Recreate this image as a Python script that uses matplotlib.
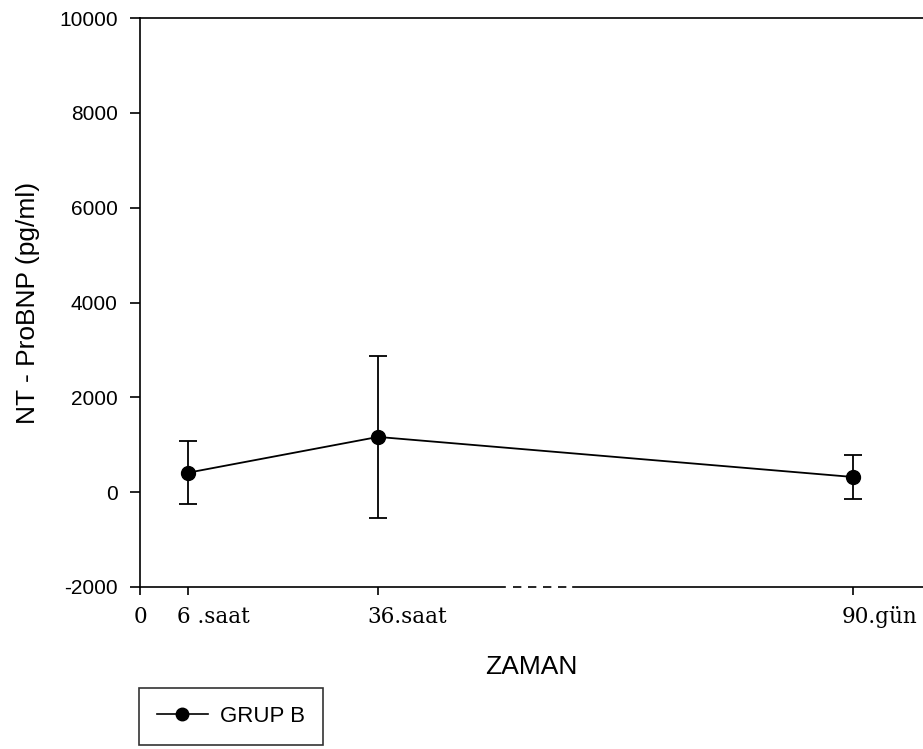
"""NT-ProBNP over time for group B, broken time axis."""

import matplotlib.pyplot as plt
import matplotlib.transforms as mtransforms
import numpy as np
from matplotlib.lines import Line2D

plt.rcParams["axes.unicode_minus"] = False

# Data
times_h = [6, 36, 2160]          # 6 h, 36 h, 90 days (in hours)
tick_times_h = [0, 6, 36, 2160]
tick_labels = ["0", "6 .saat", "36.saat", "90.gün"]
means = [410, 1165, 320]
sds = [670, 1700, 455]
series_name = "GRUP B"

# Broken time axis: piecewise-linear mapping of hours to axis units
brk_in = [0, 6, 36, 2160, 2400]
brk_out = [0, 48, 238, 713, 783]


def fwd(x):
    return np.interp(x, brk_in, brk_out)


def inv(x):
    return np.interp(x, brk_out, brk_in)


fig = plt.figure(figsize=(9.23, 7.49), dpi=100)
ax = fig.add_axes([140 / 923, 162 / 749, 783 / 923, 569 / 749])
ax.set_xscale("function", functions=(fwd, inv))

ax.errorbar(times_h, means, yerr=sds, color="black", marker="o", markersize=10,
            linewidth=1.3, elinewidth=1.3, capsize=6.5, capthick=1.3)

ax.set_xlim(brk_in[0], brk_in[-1])
ax.set_ylim(-2000, 10000)
ax.set_yticks(np.arange(-2000, 10001, 2000))
ax.set_xticks(tick_times_h)
ax.set_xticklabels(tick_labels, family="DejaVu Serif", fontsize=15.5)
ax.tick_params(axis="y", labelsize=15, length=7, width=1.2, direction="out",
               pad=9)
ax.tick_params(axis="x", length=6, width=1.2, direction="out", pad=8)
for lab in ax.get_yticklabels():
    lab.set_family("Liberation Sans")

# x labels start a little left of their tick, as in the original
shift = mtransforms.ScaledTranslation(-11 / 100, 0, fig.dpi_scale_trans)
for lab in ax.get_xticklabels()[1:]:
    lab.set_horizontalalignment("left")
    lab.set_transform(lab.get_transform() + shift)

ax.spines["right"].set_visible(False)
ax.spines["bottom"].set_visible(False)
ax.spines["left"].set_linewidth(1.2)
ax.spines["top"].set_linewidth(1.2)

# Bottom axis line with a dashed break
ax.plot([0, 0.466], [0, 0], color="black", lw=1.2, transform=ax.transAxes,
        clip_on=False)
ax.plot([0.476, 0.553], [0, 0], color="black", lw=1.2, ls=(0, (5, 4)),
        transform=ax.transAxes, clip_on=False)
ax.plot([0.553, 1.0], [0, 0], color="black", lw=1.2, transform=ax.transAxes,
        clip_on=False)

ax.set_xlabel("ZAMAN", family="Liberation Sans", fontsize=19, labelpad=19)
ax.set_ylabel("NT - ProBNP (pg/ml)", family="Liberation Sans", fontsize=19,
              labelpad=14)

handle = Line2D([], [], color="black", marker="o", markersize=9, linewidth=1.2)
leg = fig.legend([handle], [series_name], loc="upper left",
                 bbox_to_anchor=(139 / 923, 1 - 688 / 749),
                 frameon=True, fancybox=False, edgecolor="black",
                 prop={"family": "Liberation Sans", "size": 16},
                 handlelength=2.3, handletextpad=0.55, borderpad=0.8,
                 borderaxespad=0)
leg.get_frame().set_linewidth(1.2)

fig.savefig("out.png", dpi=100)
